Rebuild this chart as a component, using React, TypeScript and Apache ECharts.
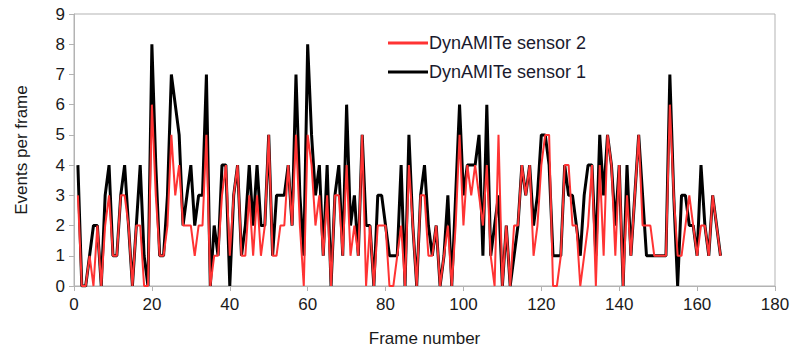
import React, { useEffect, useRef } from "react";
import * as echarts from "echarts";

const sensor1: number[] = [
  4, 0, 0, 1, 2, 2, 0, 3, 4, 1,
  1, 3, 4, 2, 0, 2, 4, 1, 0, 8,
  4, 1, 1, 3, 7, 6, 5, 2, 3, 4,
  2, 3, 3, 7, 0, 2, 1, 4, 4, 0,
  3, 4, 1, 2, 4, 2, 4, 2, 2, 5,
  1, 3, 3, 3, 4, 2, 7, 3, 1, 8,
  5, 3, 4, 1, 4, 0, 3, 4, 1, 6,
  2, 3, 1, 5, 2, 2, 0, 3, 3, 2,
  1, 1, 1, 4, 0, 5, 2, 0, 3, 4,
  2, 1, 2, 0, 1, 3, 0, 3, 6, 3,
  4, 4, 4, 5, 1, 6, 1, 2, 3, 0,
  2, 0, 1, 2, 4, 3, 4, 2, 3, 5,
  5, 4, 1, 1, 1, 4, 3, 3, 2, 1,
  3, 4, 4, 1, 5, 3, 5, 4, 2, 4,
  0, 4, 1, 3, 5, 3, 1, 1, 1, 1,
  1, 1, 7, 3, 0, 3, 3, 2, 2, 1,
  4, 2, 1, 3, 2, 1,
];

const sensor2: number[] = [
  3, 0, 0, 1, 0, 2, 0, 2, 3, 1,
  1, 3, 3, 2, 0, 2, 2, 0, 0, 6,
  3, 1, 1, 2, 5, 3, 4, 2, 2, 2,
  1, 2, 2, 5, 0, 1, 1, 3, 4, 1,
  3, 4, 1, 1, 3, 1, 3, 1, 2, 5,
  1, 1, 2, 2, 4, 2, 5, 2, 0, 5,
  4, 2, 3, 1, 3, 0, 3, 3, 1, 4,
  1, 2, 1, 5, 0, 2, 0, 2, 2, 2,
  0, 0, 1, 2, 0, 4, 2, 0, 3, 3,
  1, 1, 2, 0, 1, 2, 0, 2, 5, 2,
  4, 3, 4, 3, 2, 4, 1, 0, 5, 0,
  2, 0, 2, 2, 4, 3, 4, 1, 2, 4,
  5, 5, 0, 0, 1, 4, 4, 2, 2, 0,
  1, 2, 4, 0, 4, 1, 5, 4, 1, 4,
  0, 3, 1, 3, 5, 2, 2, 2, 1, 1,
  1, 1, 6, 3, 1, 1, 2, 3, 2, 1,
  2, 2, 1, 3, 2, 1,
];

const frames: number[] = sensor1.map((_, i) => i + 1);

const seriesNames = ["DynAMITe sensor 2", "DynAMITe sensor 1"];
const xTitle = "Frame number";
const yTitle = "Events per frame";

export default function App() {
  const ref = useRef<HTMLDivElement>(null);
  useEffect(() => {
    if (!ref.current) return;
    const chart = echarts.init(ref.current, null, { renderer: "svg" });
    const font = "Liberation Sans";
    chart.setOption({
      animation: false,
      backgroundColor: "#ffffff",
      textStyle: { fontFamily: font },
      grid: {
        left: 74,
        right: 19,
        top: 14,
        bottom: 70,
        show: true,
        borderColor: "#b3b3b3",
        borderWidth: 1,
      },
      legend: {
        orient: "vertical",
        left: 383,
        top: 29,
        itemWidth: 40,
        itemHeight: 3,
        itemGap: 11,
        icon: "rect",
        data: seriesNames,
        textStyle: { fontSize: 18, color: "#1a1a2e", fontFamily: font, padding: [0, 0, 0, -4] },
      },
      xAxis: {
        type: "value",
        min: 0,
        max: 180,
        interval: 20,
        name: xTitle,
        nameLocation: "middle",
        nameGap: 44,
        nameTextStyle: { fontSize: 17, color: "#1a1a1a", fontFamily: font },
        axisLine: { show: true, lineStyle: { color: "#b3b3b3" } },
        axisTick: { show: true, length: 5, lineStyle: { color: "#b3b3b3" } },
        axisLabel: { fontSize: 17, color: "#1a1a1a", margin: 10, fontFamily: font },
        splitLine: { show: false },
      },
      yAxis: {
        type: "value",
        min: 0,
        max: 9,
        interval: 1,
        name: yTitle,
        nameLocation: "middle",
        nameGap: 44,
        nameRotate: 90,
        nameTextStyle: { fontSize: 17, color: "#1a1a1a", fontFamily: font },
        axisLine: { show: true, lineStyle: { color: "#b3b3b3" } },
        axisTick: { show: true, length: 5, lineStyle: { color: "#b3b3b3" } },
        axisLabel: { fontSize: 17, color: "#1a1a1a", margin: 9, fontFamily: font },
        splitLine: { show: false },
      },
      series: [
        {
          name: seriesNames[1],
          type: "line",
          data: frames.map((f, i) => [f, sensor1[i]]),
          showSymbol: false,
          symbol: "none",
          color: "#000000",
          lineStyle: { color: "#000000", width: 3 },
        },
        {
          name: seriesNames[0],
          type: "line",
          data: frames.map((f, i) => [f, sensor2[i]]),
          showSymbol: false,
          symbol: "none",
          color: "#ff3333",
          lineStyle: { color: "#ff3333", width: 2 },
        },
      ],
    });
    return () => chart.dispose();
  }, []);
  return <div ref={ref} style={{ width: 794, height: 356, position: "absolute", left: 0, top: 0 }} />;
}
